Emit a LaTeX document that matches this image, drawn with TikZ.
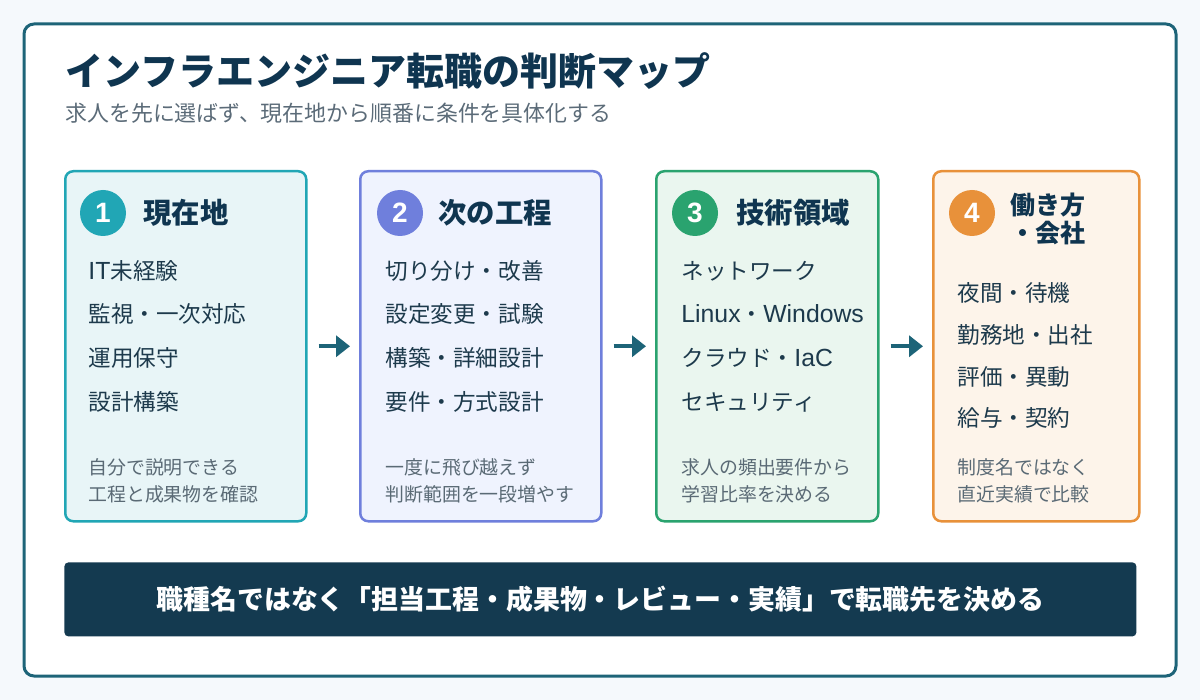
\documentclass[tikz,border=0pt]{standalone}
\usepackage{fontspec}
\setmainfont{Noto Sans CJK JP}
\newfontfamily\latf{Liberation Sans}
\newcommand{\lat}[1]{{\fontsize{12.4pt}{13pt}\latf #1}}
\usetikzlibrary{arrows.meta}
\definecolor{bgc}{HTML}{F5F9FC}
\definecolor{framec}{HTML}{1D6478}
\definecolor{navy}{HTML}{0F3550}
\definecolor{subc}{HTML}{5B6B78}
\definecolor{itemc}{HTML}{1D3A4C}
\definecolor{notec}{HTML}{5A6A75}
\definecolor{barc}{HTML}{143A50}
\definecolor{aB}{HTML}{21A6B5}\definecolor{aF}{HTML}{E8F5F7}
\definecolor{bB}{HTML}{6F7FDC}\definecolor{bF}{HTML}{EFF3FE}
\definecolor{cB}{HTML}{2AA36F}\definecolor{cF}{HTML}{EAF6EF}
\definecolor{dB}{HTML}{E8913A}\definecolor{dF}{HTML}{FDF4EA}
\tikzset{
  cardbox/.style n args={2}{draw=#1, fill=#2, line width=1.25pt, rounded corners=4pt,
    anchor=north west, minimum height=175pt, inner sep=0pt},
  numdot/.style={circle, fill=#1, minimum size=23pt, inner sep=0pt, text=white,
    font=\fontsize{14pt}{14pt}\latf\bfseries},
  heading/.style={anchor=west, inner sep=0pt, text=navy, font=\fontsize{14.2pt}{16pt}\selectfont\bfseries},
  item/.style={anchor=west, inner sep=0pt, text=itemc, font=\fontsize{11.3pt}{13pt}\selectfont},
  note/.style={anchor=west, inner sep=0pt, text=notec, align=left, font=\fontsize{9.45pt}{13.5pt}\selectfont},
  flowarrow/.style={draw=framec, line width=2.2pt, -{Triangle[length=7pt,width=10.5pt]},
    shorten <=5.5pt, shorten >=4.5pt},
}
\begin{document}
\begin{tikzpicture}[x=0.5pt,y=-0.5pt]
\useasboundingbox (0,0) rectangle (1200,700);
\fill[bgc] (0,0) rectangle (1200,700);
\draw[framec, line width=1.5pt, fill=white, rounded corners=5pt] (24,24) rectangle (1176,676);
% title
\node[anchor=west, inner sep=0pt, text=navy, font=\fontsize{19pt}{20pt}\selectfont\bfseries] (title) at (65,71) {インフラエンジニア転職の判断マップ};
\node[anchor=west, inner sep=0pt, text=subc, font=\fontsize{10.95pt}{13pt}\selectfont] (sub) at (65,113) {求人を先に選ばず、現在地から順番に条件を具体化する};
% cards
\node[cardbox={aB}{aF}, minimum width=120.5pt] (c1) at (64,170) {};
\node[cardbox={bB}{bF}, minimum width=120.5pt] (c2) at (359,170) {};
\node[cardbox={cB}{cF}, minimum width=111pt] (c3) at (655,170) {};
\node[cardbox={dB}{dF}, minimum width=103pt] (c4) at (932,170) {};
% card 1
\node[numdot=aB] (n1) at (103,213) {1};
\node[heading] (h1) at (143,213) {現在地};
\node[item] (i11) at (88,271) {\lat{IT}未経験};
\node[item] (i12) at (88,314) {監視・一次対応};
\node[item] (i13) at (88,358) {運用保守};
\node[item] (i14) at (88,402) {設計構築};
\node[note] (t1) at (88,481) {自分で説明できる\\工程と成果物を確認};
% card 2
\node[numdot=bB] (n2) at (400,213) {2};
\node[heading] (h2) at (438,213) {次の工程};
\node[item] (i21) at (385,271) {切り分け・改善};
\node[item] (i22) at (385,314) {設定変更・試験};
\node[item] (i23) at (385,358) {構築・詳細設計};
\node[item] (i24) at (385,402) {要件・方式設計};
\node[note] (t2) at (385,481) {一度に飛び越えず\\判断範囲を一段増やす};
% card 3
\node[numdot=cB] (n3) at (695,213) {3};
\node[heading] (h3) at (736,213) {技術領域};
\node[item] (i31) at (681,271) {ネットワーク};
\node[item] (i32) at (681,314) {\lat{Linux}・\lat{Windows}};
\node[item] (i33) at (681,358) {クラウド・\lat{IaC}};
\node[item] (i34) at (681,402) {セキュリティ};
\node[note] (t3) at (681,481) {求人の頻出要件から\\学習比率を決める};
% card 4
\node[numdot=dB] (n4) at (972,213) {4};
\node[heading, align=left, font=\fontsize{12.5pt}{14pt}\selectfont\bfseries] (h4) at (1010,219) {働き方\\ ・会社};
\node[item] (i41) at (957,293) {夜間・待機};
\node[item] (i42) at (957,335) {勤務地・出社};
\node[item] (i43) at (957,377) {評価・異動};
\node[item] (i44) at (957,418) {給与・契約};
\node[note] (t4) at (957,481) {制度名ではなく\\直近実績で比較};
% arrows
\draw[flowarrow] (c1.east) -- (c2.west);
\draw[flowarrow] (c2.east) -- (c3.west);
\draw[flowarrow] (c3.east) -- (c4.west);
% bottom bar
\node[fill=barc, rounded corners=2pt, anchor=north west, minimum width=536pt, minimum height=37pt, inner sep=0pt] (bar) at (64,562) {};
\node[text=white, inner sep=0pt, font=\fontsize{13.45pt}{14pt}\selectfont\bfseries] (bart) at (bar.center) {職種名ではなく「担当工程・成果物・レビュー・実績」で転職先を決める};
\end{tikzpicture}
\end{document}
